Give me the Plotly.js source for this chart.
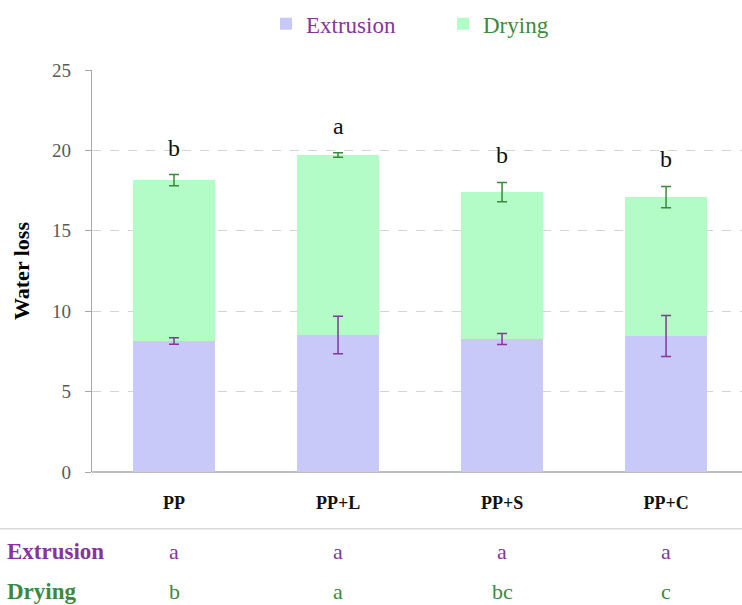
<!DOCTYPE html>
<html>
<head>
<meta charset="utf-8">
<script src="https://cdn.plot.ly/plotly-3.0.1.min.js"></script>
<style>html,body{margin:0;padding:0;background:#fff;}#chart{width:742px;height:605px;}</style>
</head>
<body>
<div id="chart"></div>
<script>
// ---- data ----
var categories = ['PP', 'PP+L', 'PP+S', 'PP+C'];
var extrusion = [8.15, 8.52, 8.27, 8.46];
var extrusionErr = [0.2, 1.17, 0.34, 1.27];
var drying = [10.0, 11.19, 9.14, 8.64];
var dryingErr = [0.35, 0.14, 0.6, 0.66];
var totalLetters = ['b', 'a', 'b', 'b'];
var extrusionLetters = ['a', 'a', 'a', 'a'];
var dryingLetters = ['b', 'a', 'bc', 'c'];
var yTicks = [0, 5, 10, 15, 20, 25];

var purple = '#86359c';
var green = '#3b8a3b';
var serif = '"Palatino Linotype", "Book Antiqua", Palatino, "Liberation Serif", serif';

var totals = extrusion.map(function (v, i) { return v + drying[i]; });

var traces = [
  {
    type: 'bar', x: categories, y: extrusion,
    name: '<span style="color:' + purple + '">Extrusion</span>',
    marker: {color: '#c9c9f9'}, hoverinfo: 'skip'
  },
  {
    type: 'bar', x: categories, y: drying,
    name: '<span style="color:' + green + '">Drying</span>',
    marker: {color: '#b3fbc7'}, hoverinfo: 'skip'
  },
  // error bars drawn above the stacked bars
  {
    type: 'scatter', mode: 'markers', x: categories, y: extrusion, showlegend: false,
    marker: {size: 1, opacity: 0}, hoverinfo: 'skip',
    error_y: {type: 'data', array: extrusionErr, visible: true, color: purple, thickness: 1.5, width: 5}
  },
  {
    type: 'scatter', mode: 'markers', x: categories, y: totals, showlegend: false,
    marker: {size: 1, opacity: 0}, hoverinfo: 'skip',
    error_y: {type: 'data', array: dryingErr, visible: true, color: green, thickness: 1.5, width: 5}
  }
];

var annotations = [];
categories.forEach(function (c, i) {
  annotations.push({
    x: c, y: totals[i] + dryingErr[i], xref: 'x', yref: 'y',
    text: totalLetters[i], showarrow: false, yanchor: 'bottom', yshift: 12,
    font: {family: serif, size: 24, color: '#111'}
  });
  annotations.push({
    x: c, y: -0.199, xref: 'x', yref: 'paper',
    text: extrusionLetters[i], showarrow: false, yanchor: 'middle',
    font: {family: serif, size: 22, color: purple}
  });
  annotations.push({
    x: c, y: -0.2985, xref: 'x', yref: 'paper',
    text: dryingLetters[i], showarrow: false, yanchor: 'middle',
    font: {family: serif, size: 22, color: green}
  });
});
annotations.push({
  x: -0.134, y: -0.199, xref: 'paper', yref: 'paper', xanchor: 'left', yanchor: 'middle',
  text: '<b>Extrusion</b>', showarrow: false, font: {family: serif, size: 23, color: purple}
});
annotations.push({
  x: -0.134, y: -0.2985, xref: 'paper', yref: 'paper', xanchor: 'left', yanchor: 'middle',
  text: '<b>Drying</b>', showarrow: false, font: {family: serif, size: 23, color: green}
});

var layout = {
  width: 742, height: 605,
  margin: {l: 92, r: 0, t: 70, b: 133},
  paper_bgcolor: '#fff', plot_bgcolor: '#fff',
  barmode: 'stack', bargap: 0.5,
  font: {family: serif},
  showlegend: true,
  legend: {
    orientation: 'h', x: 0.54, xanchor: 'center', y: 1.115, yanchor: 'middle',
    font: {family: serif, size: 23}, itemwidth: 30, traceorder: 'normal',
    entrywidth: 132, entrywidthmode: 'pixels'
  },
  xaxis: {
    type: 'category', range: [-0.5, 3.463],
    showgrid: false, zeroline: false, showline: false,
    ticks: 'outside', ticklen: 14, tickcolor: 'rgba(0,0,0,0)',
    tickfont: {family: serif, size: 18, color: '#111', weight: 'bold'}
  },
  yaxis: {
    range: [0, 25], tickvals: yTicks, showline: true, linecolor: '#a6a6a6', linewidth: 1.3,
    ticks: 'outside', ticklen: 6, tickcolor: '#a6a6a6',
    showgrid: true, gridcolor: '#d4d4d4', griddash: 'dash', gridwidth: 1.2,
    zeroline: true, zerolinecolor: '#bfbfbf', zerolinewidth: 1.3,
    tickfont: {family: serif, size: 19, color: '#595959'},
    ticklabelstandoff: 10,
    title: {text: '<b>Water loss</b>', font: {family: serif, size: 22, color: '#000'}, standoff: 16}
  },
  shapes: [{
    type: 'line', xref: 'paper', yref: 'paper', x0: -0.142, x1: 1, y0: -0.141, y1: -0.141,
    line: {color: '#d9d9d9', width: 1.5}
  }],
  annotations: annotations
};

Plotly.newPlot('chart', traces, layout, {displayModeBar: false, staticPlot: true});
</script>
</body>
</html>
